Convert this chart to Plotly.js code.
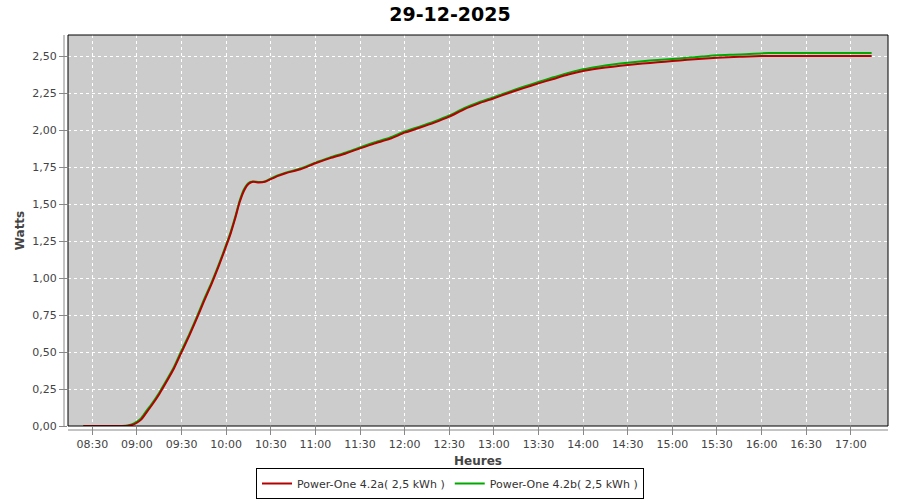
<!DOCTYPE html>
<html>
<head>
<meta charset="utf-8">
<script src="https://cdn.plot.ly/plotly-3.0.1.min.js"></script>
<style>html,body{margin:0;padding:0;background:#fff;}#chart{width:900px;height:500px;}</style>
</head>
<body>
<div id="chart"></div>
<script>
const DAY = "2025-12-29 ";
const timesA = ["08:24","08:50","08:54","08:57","09:00","09:03","09:06","09:10","09:15","09:20","09:25","09:30","09:35","09:40","09:45","09:50","09:55","10:00","10:03","10:06","10:09","10:12","10:15","10:18","10:22","10:26","10:30","10:35","10:40","10:50","11:00","11:10","11:20","11:30","11:40","11:50","12:00","12:10","12:20","12:30","12:40","12:50","13:00","13:10","13:20","13:30","13:40","13:50","14:00","14:10","14:20","14:30","14:40","14:50","15:00","15:10","15:20","15:30","15:45","16:00","16:30","17:00","17:14"];
const valuesA = [0,0,0.002,0.008,0.022,0.045,0.085,0.14,0.215,0.30,0.39,0.498,0.605,0.72,0.84,0.955,1.08,1.215,1.30,1.40,1.51,1.59,1.635,1.65,1.646,1.65,1.668,1.69,1.708,1.735,1.775,1.81,1.84,1.876,1.91,1.94,1.982,2.015,2.05,2.09,2.14,2.18,2.214,2.25,2.283,2.315,2.345,2.375,2.399,2.415,2.428,2.439,2.449,2.458,2.466,2.474,2.482,2.489,2.495,2.50,2.50,2.50,2.50];
const timesB = ["08:24","08:50","08:54","08:57","09:00","09:03","09:06","09:10","09:15","09:20","09:25","09:30","09:35","09:40","09:45","09:50","09:55","10:00","10:03","10:06","10:09","10:12","10:15","10:18","10:22","10:26","10:30","10:35","10:40","10:50","11:00","11:10","11:20","11:30","11:40","11:50","12:00","12:10","12:20","12:30","12:40","12:50","13:00","13:10","13:20","13:30","13:40","13:50","14:00","14:10","14:20","14:30","14:40","14:50","15:00","15:10","15:20","15:30","15:45","16:05","16:30","17:00","17:14"];
const valuesB = [0,0,0.004,0.012,0.03,0.055,0.097,0.15,0.225,0.31,0.40,0.51,0.615,0.73,0.852,0.965,1.09,1.225,1.31,1.41,1.52,1.60,1.642,1.652,1.648,1.652,1.672,1.695,1.712,1.74,1.78,1.815,1.847,1.883,1.917,1.948,1.99,2.023,2.058,2.098,2.148,2.188,2.222,2.258,2.292,2.325,2.356,2.386,2.41,2.428,2.443,2.455,2.465,2.473,2.48,2.488,2.496,2.505,2.51,2.52,2.52,2.52,2.52];
const nameA = "Power-One 4.2a( 2,5 kWh )";
const nameB = "Power-One 4.2b( 2,5 kWh )";
const titleText = "29-12-2025";
const yTitle = "Watts";
const xTitle = "Heures";

const traces = [
  {x: timesB.map(t => DAY + t), y: valuesB, name: nameB, type: "scatter", mode: "lines",
   line: {color: "#00a800", width: 2, shape: "spline", smoothing: 0.5}, legendrank: 2},
  {x: timesA.map(t => DAY + t), y: valuesA, name: nameA, type: "scatter", mode: "lines",
   line: {color: "#b40000", width: 2, shape: "spline", smoothing: 0.5}, legendrank: 1}
];

const F = "DejaVu Sans, sans-serif";
const layout = {
  width: 900, height: 500,
  margin: {l: 68, r: 12, t: 35, b: 74},
  paper_bgcolor: "#ffffff",
  plot_bgcolor: "#cccccc",
  separators: ",.",
  font: {family: F, size: 11, color: "#444444"},
  title: {text: titleText, x: 0.5, xref: "container", xanchor: "center", y: 0.972, yanchor: "middle",
          font: {family: F, size: 19, color: "#000000", weight: "bold"}},
  xaxis: {
    type: "date",
    range: [DAY + "08:13:40", DAY + "17:25:00"],
    tick0: DAY + "08:30", dtick: 1800000, tickformat: "%H:%M",
    showgrid: true, gridcolor: "#ffffff", griddash: "dot", gridwidth: 1,
    ticks: "outside", ticklen: 8, tickcolor: "#888888", tickwidth: 1,
    showline: false, zeroline: false,
    tickfont: {family: F, size: 11, color: "#444444"},
    title: {text: xTitle, font: {family: F, size: 12, color: "#444444", weight: "bold"}, standoff: 7}
  },
  yaxis: {
    range: [0, 2.642], dtick: 0.25, tick0: 0, tickformat: ".2f",
    showgrid: true, gridcolor: "#ffffff", griddash: "dot", gridwidth: 1,
    ticks: "outside", ticklen: 8, tickcolor: "#888888", tickwidth: 1,
    showline: false, zeroline: false,
    tickfont: {family: F, size: 11, color: "#444444"},
    title: {text: yTitle, font: {family: F, size: 12, color: "#444444", weight: "bold"}, standoff: 5}
  },
  showlegend: true,
  legend: {
    orientation: "h", xref: "container", yref: "container",
    x: 0.5, xanchor: "center", y: 0.002, yanchor: "bottom",
    bordercolor: "#000000", borderwidth: 1, bgcolor: "#ffffff",
    font: {family: F, size: 11, color: "#333333"},
    itemwidth: 30, tracegroupgap: 0
  },
  shapes: [
    {type: "rect", xref: "paper", yref: "paper", x0: 0, x1: 1, y0: 0, y1: 1,
     line: {color: "#000000", width: 1}, fillcolor: "rgba(0,0,0,0)", layer: "above"},
    {type: "line", xref: "paper", yref: "paper", x0: -4/820, x1: -4/820, y0: 0, y1: 1,
     line: {color: "#888888", width: 1}},
    {type: "line", xref: "paper", yref: "paper", x0: 0, x1: 1, y0: -4/391, y1: -4/391,
     line: {color: "#888888", width: 1}}
  ]
};

Plotly.newPlot("chart", traces, layout, {displayModeBar: false, staticPlot: true});
</script>
</body>
</html>
